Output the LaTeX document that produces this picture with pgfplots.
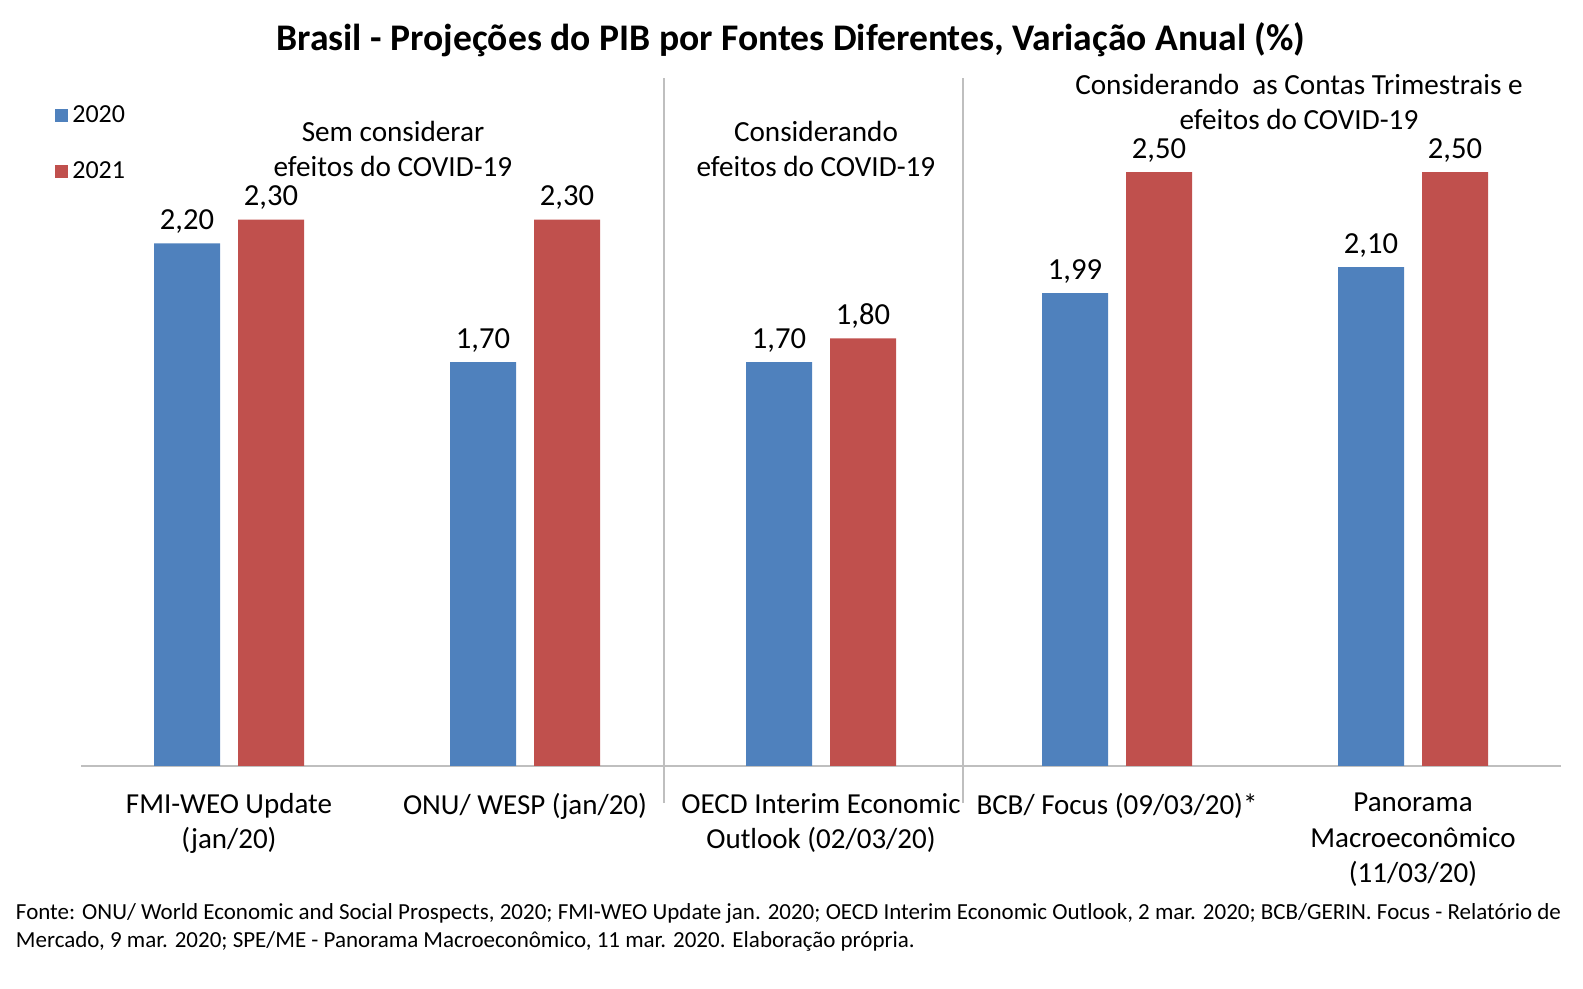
\documentclass[border=0pt]{standalone}
\usepackage{fontspec}
\setmainfont{Carlito}
\usepackage{pgfplots}
\pgfplotsset{compat=1.18}
\usepackage{pgfplotstable}

\definecolor{azul}{HTML}{4F81BD}
\definecolor{verm}{HTML}{C0504D}
\definecolor{linha}{HTML}{BFBFBF}

\pgfplotstableread{
x   a2020  a2021
0   2.20   2.30
1   1.70   2.30
2   1.70   1.80
3   1.99   2.50
4   2.10   2.50
}\pib

\begin{document}
\begin{tikzpicture}
% 1 px = 0.5pt, origin at the lower left corner of the plot area
\useasboundingbox (-40.5pt,-111.5pt) rectangle (751pt,383pt);
\begin{axis}[
    scale only axis,
    width=740pt, height=344.5pt,
    xmin=-0.5, xmax=4.5,
    ymin=0, ymax=2.9,
    ybar=9pt, bar width=33pt,
    axis x line*=bottom,
    hide y axis,
    x axis line style={-, draw=linha, line width=1pt},
    major tick length=0pt,
    xtick=data,
    xticklabels={FMI-WEO Update\\(jan/20), ONU/ WESP (jan/20), OECD Interim Economic\\Outlook (02/03/20), BCB/ Focus (09/03/20)*, Panorama\\Macroeconômico\\(11/03/20)},
    xticklabel style={font=\fontsize{14.5}{17.7}\selectfont, align=center, anchor=north, yshift=-10pt},
    /pgf/number format/assume math mode=true,
    nodes near coords={\pgfmathprintnumber[fixed, fixed zerofill, precision=2, use comma]{\pgfplotspointmeta}},
    nodes near coords style={font=\fontsize{15.3}{17}\selectfont, anchor=base, yshift=7pt, text=black},
    clip=false,
    legend style={at={(-0.0176,0.965)}, anchor=north west, draw=none, fill=none,
        font=\fontsize{13}{15}\selectfont, row sep=14pt, inner sep=0pt},
    legend cell align=left,
    legend image code/.code={\fill[#1] (0pt,-3.25pt) rectangle (6.5pt,3.25pt);},
]
\addplot[fill=azul, draw=none] table[x=x, y=a2020] {\pib};
\addplot[fill=verm, draw=none] table[x=x, y=a2021] {\pib};
\legend{2020, 2021}
\draw[linha, line width=0.75pt] (axis cs:1.47,-0.156) -- (axis cs:1.47,2.896);
\draw[linha, line width=0.75pt] (axis cs:2.48,-0.156) -- (axis cs:2.48,2.896);
\end{axis}
\node[font=\bfseries\fontsize{18.8}{22}\selectfont] at (355pt,363pt) {Brasil - Projeções do PIB por Fontes Diferentes, Variação Anual (\%)};
\node[font=\fontsize{14.6}{17.5}\selectfont, align=center] at (156pt,308.5pt) {Sem considerar\\efeitos do COVID-19};
\node[font=\fontsize{14.6}{17.5}\selectfont, align=center] at (367.5pt,308.5pt) {Considerando\\efeitos do COVID-19};
\node[font=\fontsize{14.6}{17.5}\selectfont, align=center] at (609pt,332pt) {Considerando\ \ as Contas Trimestrais e\\efeitos do COVID-19};
\node[font=\fontsize{11.5}{14}\selectfont, anchor=base west, inner sep=0pt] at (-32.7pt,-77pt) {Fonte: ONU/ World Economic and Social Prospects, 2020; FMI-WEO Update jan. 2020; OECD Interim Economic Outlook, 2 mar. 2020; BCB/GERIN. Focus - Relatório de};
\node[font=\fontsize{11.5}{14}\selectfont, anchor=base west, inner sep=0pt] at (-32.7pt,-91pt) {Mercado, 9 mar. 2020; SPE/ME - Panorama Macroeconômico, 11 mar. 2020. Elaboração própria.};
\end{tikzpicture}
\end{document}
